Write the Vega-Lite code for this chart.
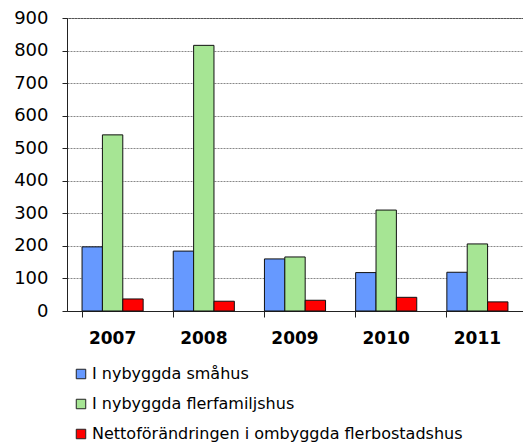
{
  "$schema": "https://vega.github.io/schema/vega-lite/v6.json",
  "width": 456,
  "height": 293,
  "autosize": {"type": "none"},
  "padding": {"left": 67, "top": 18, "right": 0, "bottom": 135},
  "background": "white",
  "config": {
    "view": {"stroke": "#222", "strokeWidth": 1},
    "font": "DejaVu Sans"
  },
  "data": {
    "values": [
      {"year": "2007", "typ": "I nybyggda småhus", "value": 197},
      {"year": "2007", "typ": "I nybyggda flerfamiljshus", "value": 541},
      {"year": "2007", "typ": "Nettoförändringen i ombyggda flerbostadshus", "value": 37},
      {"year": "2008", "typ": "I nybyggda småhus", "value": 184},
      {"year": "2008", "typ": "I nybyggda flerfamiljshus", "value": 816},
      {"year": "2008", "typ": "Nettoförändringen i ombyggda flerbostadshus", "value": 30},
      {"year": "2009", "typ": "I nybyggda småhus", "value": 160},
      {"year": "2009", "typ": "I nybyggda flerfamiljshus", "value": 166},
      {"year": "2009", "typ": "Nettoförändringen i ombyggda flerbostadshus", "value": 33},
      {"year": "2010", "typ": "I nybyggda småhus", "value": 118},
      {"year": "2010", "typ": "I nybyggda flerfamiljshus", "value": 310},
      {"year": "2010", "typ": "Nettoförändringen i ombyggda flerbostadshus", "value": 42},
      {"year": "2011", "typ": "I nybyggda småhus", "value": 119},
      {"year": "2011", "typ": "I nybyggda flerfamiljshus", "value": 206},
      {"year": "2011", "typ": "Nettoförändringen i ombyggda flerbostadshus", "value": 28}
    ]
  },
  "mark": {"type": "bar", "stroke": "#111", "strokeWidth": 1},
  "encoding": {
    "x": {
      "field": "year",
      "type": "nominal",
      "scale": {"paddingInner": 0.33, "paddingOuter": 0.165},
      "axis": {
        "title": null,
        "labelAngle": 0,
        "labelFont": "DejaVu Sans",
        "labelFontSize": 17,
        "labelFontWeight": "bold",
        "labelColor": "#000",
        "labelPadding": 13,
        "domainColor": "#222",
        "tickColor": "#222",
        "tickSize": 6,
        "bandPosition": 0,
        "grid": false
      }
    },
    "xOffset": {
      "field": "typ",
      "type": "nominal",
      "sort": ["I nybyggda småhus", "I nybyggda flerfamiljshus", "Nettoförändringen i ombyggda flerbostadshus"],
      "scale": {"paddingInner": 0, "paddingOuter": 0}
    },
    "y": {
      "field": "value",
      "type": "quantitative",
      "scale": {"domain": [0, 900], "nice": false},
      "axis": {
        "title": null,
        "values": [0, 100, 200, 300, 400, 500, 600, 700, 800, 900],
        "labelFont": "DejaVu Sans",
        "labelFontSize": 18,
        "labelColor": "#000",
        "labelPadding": 14,
        "domainColor": "#222",
        "tickColor": "#222",
        "tickSize": 5,
        "gridColor": "#888",
        "gridDash": [2, 1],
        "gridWidth": 1
      }
    },
    "color": {
      "field": "typ",
      "type": "nominal",
      "sort": ["I nybyggda småhus", "I nybyggda flerfamiljshus", "Nettoförändringen i ombyggda flerbostadshus"],
      "scale": {"range": ["#6699FF", "#A6E594", "#FF0000"]},
      "legend": {
        "title": null,
        "orient": "none",
        "legendX": 6,
        "legendY": 348,
        "direction": "vertical",
        "symbolType": "square",
        "symbolSize": 90,
        "symbolStrokeColor": "#222",
        "symbolStrokeWidth": 1,
        "labelFont": "DejaVu Sans",
        "labelFontSize": 16,
        "labelColor": "#000",
        "labelOffset": 3,
        "rowPadding": 14,
        "labelLimit": 500
      }
    }
  }
}
